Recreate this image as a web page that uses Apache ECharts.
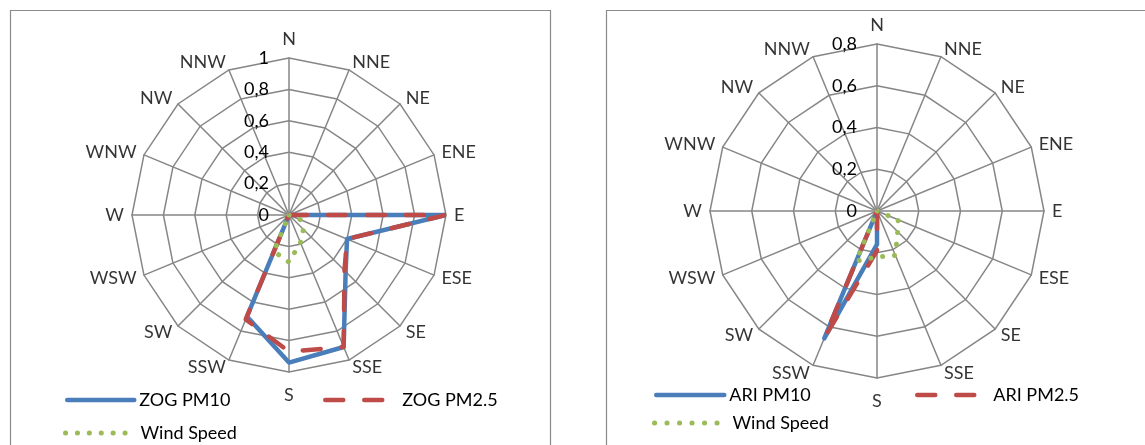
<!DOCTYPE html>
<html><head><meta charset="utf-8">
<script src="https://cdn.jsdelivr.net/npm/echarts@6/dist/echarts.min.js"></script>
<style>html,body{margin:0;padding:0;background:#fff}#c{width:1145px;height:445px}</style>
</head><body><div id="c"></div>
<script>
// Directions, clockwise from north
const directions = ['N','NNE','NE','ENE','E','ESE','SE','SSE','S','SSW','SW','WSW','W','WNW','NW','NNW'];

// Left chart (ZOG)
const zogPM10 = [0,0,0,0,1.00,0.40,0.51,0.91,0.94,0.70,0,0,0,0,0,0];
const zogPM25 = [0,0,0,0,1.00,0.40,0.50,0.91,0.87,0.72,0,0,0,0,0,0];
const zogWind = [0,0,0,0,0,0.08,0.13,0.19,0.30,0.25,0,0,0,0,0,0];
const zogTicks = [0,0.2,0.4,0.6,0.8,1];

// Right chart (ARI)
const ariPM10 = [0,0,0,0,0,0,0,0,0.16,0.66,0,0,0,0,0,0];
const ariPM25 = [0,0,0,0,0,0,0,0,0.19,0.65,0,0,0,0,0,0];
const ariWind = [0,0,0,0,0,0.11,0.14,0.23,0.22,0.26,0,0,0,0,0,0];
const ariTicks = [0,0.2,0.4,0.6,0.8];

const zogNames = ['ZOG PM10','ZOG PM2.5','Wind Speed'];
const ariNames = ['ARI PM10','ARI PM2.5','Wind Speed'];

const FONT = 'Lato';
const GRID = '#868686';
const styles = [
  {color:'#4A7EBB', width:4.5, type:'solid', cap:'round'},
  {color:'#BE4B48', width:4.5, type:[18,21], cap:'round'},
  {color:'#9BBB59', width:5, type:[0.1,11.8], cap:'round'}
];

// legend: [left, rowCenterY, iconWidth, legendDash]
const panels = [
  {cx:289, cy:215, r:157, ticks:zogTicks, names:zogNames, vals:[zogPM10,zogPM25,zogWind],
   legend:[[60,400,67,null],[318,400,72,null],[58,433,70,[0.1,11.8]]]},
  {cx:877, cy:211, r:167, ticks:ariTicks, names:ariNames, vals:[ariPM10,ariPM25,ariWind],
   legend:[[649,395,68,null],[910,395,71,null],[647,423,73,[0.1,12.4]]]}
];

function fmt(v){ return String(Math.round(v*10)/10).replace('.', ','); }

function labelPlacement(i){
  const a = (90 - i*22.5) * Math.PI/180;
  const c = Math.cos(a), s = Math.sin(a);
  const gap = i===0 ? 10 : (i===8 ? 14 : 8);
  return {
    position:[Math.round(gap*c*10)/10, Math.round(-gap*s*10)/10],
    align: c>0.1 ? 'left' : (c<-0.1 ? 'right' : 'center'),
    verticalAlign: s>0.99 ? 'bottom' : (s<-0.99 ? 'top' : 'middle')
  };
}

const option = {
  animation:false,
  backgroundColor:'#fff',
  textStyle:{fontFamily:FONT},
  graphic:[
    {type:'rect', silent:true, z:-10, shape:{x:10.5,y:10.5,width:540,height:480}, style:{fill:null, stroke:'#8a8a8a', lineWidth:1.2}},
    {type:'rect', silent:true, z:-10, shape:{x:606.5,y:10.5,width:600,height:480}, style:{fill:null, stroke:'#8a8a8a', lineWidth:1.2}}
  ],
  radar: panels.map(p => ({
    center:[p.cx, p.cy], radius:p.r, startAngle:90, shape:'polygon',
    splitNumber:p.ticks.length-1,
    indicator: directions.map(d => ({name:d, min:0, max:p.ticks[p.ticks.length-1]})),
    axisName:{show:false},
    axisLine:{lineStyle:{color:GRID, width:1.5}},
    splitLine:{lineStyle:{color:GRID, width:1.5}},
    splitArea:{show:false},
    axisTick:{show:false},
    axisLabel:{show:false}
  })),
  polar: panels.map(p => ({center:[p.cx, p.cy], radius:p.r})),
  angleAxis: panels.map((p,i) => ({
    polarIndex:i, type:'category', data:directions, boundaryGap:false,
    startAngle:90, clockwise:true,
    axisLine:{show:false}, axisTick:{show:false}, axisLabel:{show:false}, splitLine:{show:false}
  })),
  radiusAxis: panels.map((p,i) => ({
    polarIndex:i, type:'value', min:p.ticks[0], max:p.ticks[p.ticks.length-1],
    interval:p.ticks[1]-p.ticks[0],
    axisLine:{show:false}, axisTick:{show:false}, splitLine:{show:false},
    axisLabel:{show:true, margin:20, color:'#000', fontFamily:FONT, fontSize:18, formatter:fmt}
  })),
  legend: [],
  series: []
};

panels.forEach((p, pi) => {
  const max = p.ticks[p.ticks.length-1];
  p.vals.forEach((vals, k) => {
    const st = styles[k];
    const data = vals.map((v,i) => [v, directions[i]]);
    data.push([vals[0], directions[0]]);
    option.series.push({
      type:'line', name:p.names[k], coordinateSystem:'polar', polarIndex:pi,
      data, symbol:'none', showSymbol:false, clip:false, z:3+k,
      lineStyle:{color:st.color, width:st.width, type:st.type, cap:st.cap, join:'round'},
      itemStyle:{color:st.color}
    });
    const lg = p.legend[k];
    option.legend.push({
      data:[p.names[k]], left:lg[0], top:lg[1]-14,
      itemWidth:lg[2], itemHeight:14, selectedMode:false,
      itemStyle:{opacity:0},
      lineStyle:{width:st.width, type:lg[3] || st.type, cap:st.cap, color:st.color},
      textStyle:{fontFamily:FONT, fontSize:18, color:'#000'}
    });
  });
  option.series.push({
    type:'scatter', coordinateSystem:'polar', polarIndex:pi, symbolSize:0, silent:true, z:2,
    data: directions.map((d,i) => ({value:[max, d], label:labelPlacement(i)})),
    label:{show:true, formatter: prm => directions[prm.dataIndex], fontFamily:FONT, fontSize:18, color:'#000'}
  });
});

const chart = echarts.init(document.getElementById('c'), null, {renderer:'canvas'});
chart.setOption(option);
</script>
</body></html>
